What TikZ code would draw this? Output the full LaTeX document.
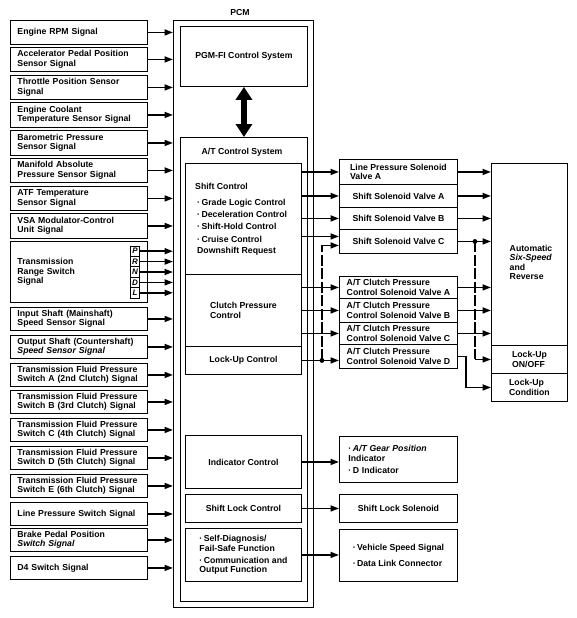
\documentclass[tikz,border=0pt]{standalone}
\usepackage{fontspec}
\setmainfont{Liberation Sans}
\usetikzlibrary{arrows.meta}
\begin{document}
\begin{tikzpicture}[x=1pt,y=-1pt,
  every node/.style={font=\bfseries\fontsize{8.7}{9.4}\selectfont, inner sep=0pt},
  box/.style={draw, line width=0.9pt, rectangle, anchor=north west},
  lbox/.style={box, minimum width=137pt, text width=123pt, align=left, inner xsep=7pt},
  sbox/.style={box, minimum width=118pt, align=left},
  cbox/.style={box, minimum width=116pt, align=left},
  gbox/.style={box, minimum width=76pt, align=left},
  lett/.style={draw, line width=0.8pt, minimum width=9pt, minimum height=10.4pt, inner sep=0pt, font=\bfseries\itshape\fontsize{8}{8}\selectfont},
  arr/.style={line width=1.7pt, -{Triangle[length=8.5pt,width=6pt]}},
  dsh/.style={line width=1.5pt, dash pattern=on 11pt off 2.5pt},
  dotn/.style={circle, fill, minimum size=4.8pt, inner sep=0pt}
]
\useasboundingbox (0,0) rectangle (577,618);

% ---------- left input boxes ----------
\node[lbox,minimum height=24pt] (s1) at (10,20) {Engine RPM Signal};
\node[lbox,minimum height=24pt] (s2) at (10,47) {Accelerator Pedal Position\\Sensor Signal};
\node[lbox,minimum height=24pt] (s3) at (10,75) {Throttle Position Sensor\\Signal};
\node[lbox,minimum height=25pt] (s4) at (10,102) {Engine Coolant\\Temperature Sensor Signal};
\node[lbox,minimum height=25pt] (s5) at (10,130) {Barometric Pressure\\Sensor Signal};
\node[lbox,minimum height=24pt] (s6) at (10,158) {Manifold Absolute\\Pressure Sensor Signal};
\node[lbox,minimum height=24pt] (s7) at (10,186) {ATF Temperature\\Sensor Signal};
\node[lbox,minimum height=25pt] (s8) at (10,213) {VSA Modulator-Control\\Unit Signal};
\node[lbox,minimum height=61pt] (s9) at (10,241) {Transmission\\Range Switch\\Signal};
\node[lbox,minimum height=23pt] (s10) at (10,307) {Input Shaft (Mainshaft)\\Speed Sensor Signal};
\node[lbox,minimum height=23pt] (s11) at (10,335) {Output Shaft (Countershaft)\\\textit{Speed Sensor Signal}};
\node[lbox,minimum height=23pt] (s12) at (10,363) {Transmission Fluid Pressure\\Switch A (2nd Clutch) Signal};
\node[lbox,minimum height=23pt] (s13) at (10,390) {Transmission Fluid Pressure\\Switch B (3rd Clutch) Signal};
\node[lbox,minimum height=23pt] (s14) at (10,418) {Transmission Fluid Pressure\\Switch C (4th Clutch) Signal};
\node[lbox,minimum height=23pt] (s15) at (10,446) {Transmission Fluid Pressure\\Switch D (5th Clutch) Signal};
\node[lbox,minimum height=23pt] (s16) at (10,474) {Transmission Fluid Pressure\\Switch E (6th Clutch) Signal};
\node[lbox,minimum height=23pt] (s17) at (10,502) {Line Pressure Switch Signal};
\node[lbox,minimum height=23pt] (s18) at (10,528) {Brake Pedal Position\\\textit{Switch Signal}};
\node[lbox,minimum height=23pt] (s19) at (10,556) {D4 Switch Signal};

% P R N D L
\node[lett] (rP) at (135,251.2) {P};
\node[lett] (rR) at (135,261.6) {R};
\node[lett] (rN) at (135,272.0) {N};
\node[lett] (rD) at (135,282.4) {D};
\node[lett] (rL) at (135,292.8) {L};

% ---------- PCM ----------
\node[box, minimum width=140pt, minimum height=587pt] (pcm) at (173,20) {};
\node (pcml) at (240,12.5) {PCM};
\node[box, minimum width=127pt, minimum height=60pt] (pgm) at (180,26) {PGM-FI Control System};
\node[box, minimum width=127pt, minimum height=464pt] (atc) at (180,137) {};
\node (atl) at (242,152) {A/T Control System};

\node[cbox, minimum height=111pt] (sc) at (185,163) {};
\node[anchor=west] (sct) at (195,186) {Shift Control};
\node[anchor=north west, align=left] (scl) at (197,198.5) {·\,Grade Logic Control\\[3pt]·\,Deceleration Control\\[3pt]·\,Shift-Hold Control\\[3pt]·\,Cruise Control\\[1.5pt]Downshift Request};
\node[cbox, minimum height=72pt] (cp) at (185,274) {Clutch Pressure\\Control};
\node[cbox, minimum height=28pt] (luc) at (185,346) {Lock-Up Control};
\node[cbox, minimum height=53pt] (ind) at (185,435) {Indicator Control};
\node[cbox, minimum height=28pt] (slc) at (185,494) {Shift Lock Control};
\node[cbox, minimum height=53pt] (sd) at (185,528) {·\,Self-Diagnosis/\\Fail-Safe Function\\[3pt]·\,Communication and\\Output Function};

\draw[line width=6.5pt, {Triangle[length=13pt,width=16pt]}-{Triangle[length=13pt,width=16pt]}] (pgm.south) -- (atc.north);

% ---------- solenoids ----------
\node[sbox, minimum height=25pt] (lps) at (339,159) {Line Pressure Solenoid\\Valve A};
\node[sbox, minimum height=23pt] (ssa) at (339,184) {Shift Solenoid Valve A};
\node[sbox, minimum height=22pt] (ssb) at (339,207) {Shift Solenoid Valve B};
\node[sbox, minimum height=24pt] (ssc) at (339,229) {Shift Solenoid Valve C};
\node[sbox, minimum height=22pt] (ca) at (339,276) {A/T Clutch Pressure\\Control Solenoid Valve A};
\node[sbox, minimum height=24pt] (cb) at (339,298) {A/T Clutch Pressure\\Control Solenoid Valve B};
\node[sbox, minimum height=22pt] (cc) at (339,322) {A/T Clutch Pressure\\Control Solenoid Valve C};
\node[sbox, minimum height=24pt] (cd) at (339,344) {A/T Clutch Pressure\\Control Solenoid Valve D};

\node[gbox, minimum height=182pt] (auto) at (491,163) {};
\node[align=left] (autot) at (531,262.5) {Automatic\\\textit{Six-Speed}\\and\\Reverse};
\node[gbox, minimum height=28pt] (onoff) at (491,345) {Lock-Up\\ON/OFF};
\node[gbox, minimum height=28pt] (cond) at (491,373) {Lock-Up\\Condition};

% ---------- outputs ----------
\node[sbox, minimum height=46pt, text width=100pt, inner xsep=9pt] (gear) at (339,436) {·\,\textit{A/T Gear Position}\\Indicator\\[3pt]·\,D Indicator};
\node[sbox, minimum height=28pt, align=center] (sls) at (339,494) {Shift Lock Solenoid};
\node[sbox, minimum height=52pt] (vss) at (339,529) {·\,Vehicle Speed Signal\\[7pt]·\,Data Link Connector};

% ---------- input arrows ----------
\foreach \n in {s1,s2,s3,s4,s5,s6,s7,s8,s10,s11,s12,s13,s14,s15,s16,s17,s18,s19,rP,rR,rN,rD,rL}
  \draw[arr] (\n.east) -- (\n.east -| pcm.west);

% ---------- PCM to solenoids ----------
\coordinate (q1) at ([yshift=5pt]ssc.west);
\coordinate (q2) at ([yshift=-4pt]ssc.west);
\draw[arr] (lps.west -| sc.east) -- (lps.west);
\draw[arr] (ssa.west -| sc.east) -- (ssa.west);
\draw[arr] (ssb.west -| sc.east) -- (ssb.west);
\draw[arr] (q1 -| sc.east) -- (q1);
\draw[arr] (ca.west -| cp.east) -- (ca.west);
\draw[arr] (cb.west -| cp.east) -- (cb.west);
\draw[arr] (cc.west -| cp.east) -- (cc.west);
\draw[arr] (luc.east) -- (luc.east -| cd.west);
\path (luc.east) ++(20,0) node[dotn] (d1) {};
\draw[dsh] (d1.center) -- (d1.center |- q2);
\draw[arr] (d1.center |- q2) -- (q2);

% ---------- solenoids to transmission ----------
\foreach \n in {lps,ssa,ssb,ssc,ca,cb,cc}
  \draw[arr] (\n.east) -- (\n.east -| auto.west);
\path (ssc.east) ++(17,0) node[dotn] (d2) {};
\draw[dsh] (d2.center) -- (d2.center |- onoff.west);
\draw[arr] (d2.center |- onoff.west) -- (onoff.west);
\draw[arr] (cd.east) -- ++(8,0) |- (cond.west);

% ---------- PCM to outputs ----------
\draw[arr] (ind.east) -- (ind.east -| gear.west);
\draw[arr] (slc.east) -- (slc.east -| sls.west);
\draw[arr] (sd.east) -- (sd.east -| vss.west);
\end{tikzpicture}
\end{document}
